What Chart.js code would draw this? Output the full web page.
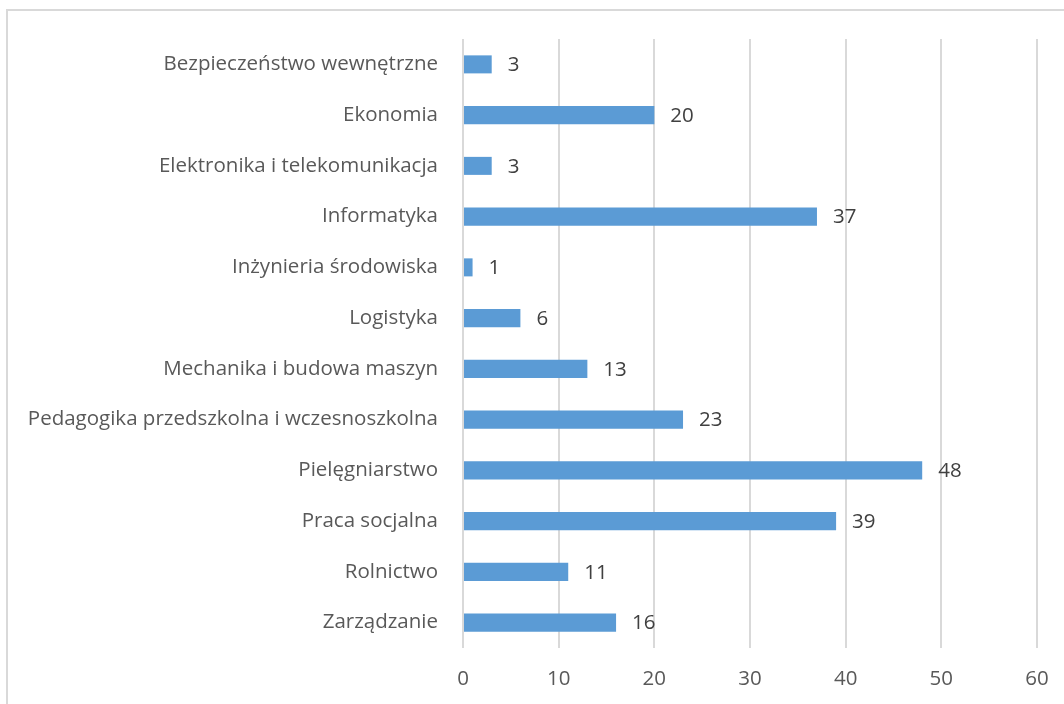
<!DOCTYPE html>
<html>
<head>
<meta charset="utf-8">
<script src="https://cdn.jsdelivr.net/npm/chart.js@4/dist/chart.umd.min.js"></script>
<style>
  html, body { margin: 0; padding: 0; background: #fff; overflow: hidden; }
  #wrap { position: relative; width: 1064px; height: 704px; }
  #frame { position: absolute; left: 6px; top: 9px; width: 2000px; height: 2000px; border-left: 2px solid #d9d9d9; border-top: 2px solid #d9d9d9; }
  canvas { position: absolute; left: 0; top: 0; }
</style>
</head>
<body>
<div id="wrap">
  <div id="frame"></div>
  <canvas id="c" width="1064" height="704"></canvas>
</div>
<script>
const categories = [
  "Bezpieczeństwo wewnętrzne",
  "Ekonomia",
  "Elektronika i telekomunikacja",
  "Informatyka",
  "Inżynieria środowiska",
  "Logistyka",
  "Mechanika i budowa maszyn",
  "Pedagogika przedszkolna i wczesnoszkolna",
  "Pielęgniarstwo",
  "Praca socjalna",
  "Rolnictwo",
  "Zarządzanie"
];
const values = [3, 20, 3, 37, 1, 6, 13, 23, 48, 39, 11, 16];
const xTicks = [0, 10, 20, 30, 40, 50, 60];

const FONT = "Open Sans";
const FSIZE = 20.5;

const valueLabels = {
  id: 'valueLabels',
  afterDatasetsDraw(chart) {
    const ctx = chart.ctx;
    const meta = chart.getDatasetMeta(0);
    ctx.save();
    ctx.font = FSIZE + "px '" + FONT + "'";
    ctx.fillStyle = "#404040";
    ctx.textAlign = "left";
    ctx.textBaseline = "middle";
    meta.data.forEach((bar, i) => {
      ctx.fillText(String(values[i]), bar.x + 16, bar.y + 1);
    });
    ctx.restore();
  }
};

new Chart(document.getElementById('c'), {
  type: 'bar',
  data: {
    labels: categories,
    datasets: [{
      data: values,
      backgroundColor: '#5b9bd5',
      borderWidth: 0,
      categoryPercentage: 1,
      barPercentage: 0.355
    }]
  },
  options: {
    indexAxis: 'y',
    responsive: false,
    animation: false,
    layout: { padding: { left: 0, right: 27, top: 39, bottom: 0 } },
    plugins: { legend: { display: false }, tooltip: { enabled: false } },
    scales: {
      x: {
        min: 0, max: 60,
        afterBuildTicks(scale) { scale.ticks = xTicks.map(v => ({ value: v })); },
        afterFit(scale) { scale.height = 56; scale.paddingLeft = 0; scale.paddingRight = 0; },
        grid: { color: '#d9d9d9', lineWidth: 2, drawTicks: false },
        border: { display: false },
        ticks: { color: '#595959', font: { family: FONT, size: FSIZE }, padding: 19 }
      },
      y: {
        afterFit(scale) { scale.width = 463; scale.paddingTop = 0; scale.paddingBottom = 0; },
        grid: { display: false, drawTicks: false },
        border: { display: false },
        ticks: { color: '#595959', font: { family: FONT, size: FSIZE }, padding: 25 }
      }
    }
  },
  plugins: [valueLabels]
});
</script>
</body>
</html>
